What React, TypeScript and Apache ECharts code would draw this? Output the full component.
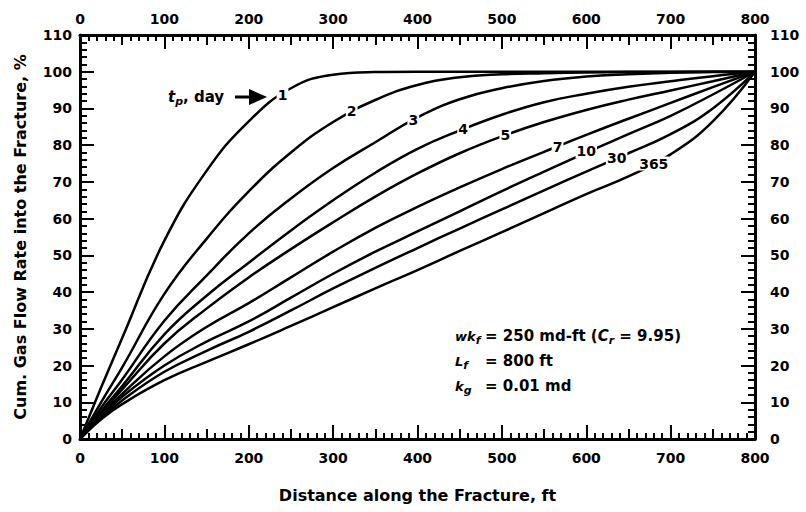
import React, { useEffect, useRef } from "react";
import * as echarts from "echarts";

// Distance along the fracture, ft
const distanceFt = [0, 25, 50, 100, 150, 200, 250, 300, 350, 400, 450, 500, 550, 600, 650, 700, 750, 800];

// Cumulative gas flow rate into the fracture (%) for each producing time tp
const flowTp1 = [0, 14, 27.5, 54, 73, 86.5, 95.5, 99.2, 99.9, 100, 100, 100, 100, 100, 100, 100, 100, 100];
const flowTp2 = [0, 10, 19.5, 39.5, 54.5, 67.4, 78, 86.3, 92.3, 96.4, 98.5, 99.3, 99.6, 99.8, 99.9, 99.95, 100, 100];
const flowTp3 = [0, 8.5, 16.2, 32.2, 44.5, 56, 65.5, 73.8, 80.8, 87.6, 92.5, 95.5, 97.5, 98.7, 99.3, 99.7, 99.9, 100];
const flowTp4 = [0, 7.5, 14.4, 28.5, 39, 48, 56.8, 65, 72.5, 79, 84, 88.3, 91.7, 94, 95.9, 97.4, 98.8, 100];
const flowTp5 = [0, 7, 13.5, 26, 35.5, 44, 51.7, 59, 66, 72.3, 77.8, 82.4, 86.3, 89.6, 92.4, 94.9, 97.4, 100];
const flowTp7 = [0, 6.5, 12.3, 22.5, 30.5, 37, 44, 51, 57.5, 63.2, 68.5, 73.5, 78.2, 82.8, 87.2, 91.5, 95.8, 100];
const flowTp10 = [0, 6, 11.5, 20, 26.5, 32, 38.5, 45, 51, 56.5, 62, 67.5, 72.8, 78, 83, 88, 93.8, 100];
const flowTp30 = [0, 5.7, 10.5, 18.3, 24, 29.2, 35, 41, 46.6, 52, 57.3, 62.5, 67.7, 72.8, 77.8, 83, 90, 100];
const flowTp365 = [0, 5.4, 9.5, 16, 21, 25.8, 30.8, 35.9, 41, 46, 51.2, 56.3, 61.5, 66.7, 71.5, 77.5, 86.5, 100];

const curveNames = ["1", "2", "3", "4", "5", "7", "10", "30", "365"];
const curveValues = [flowTp1, flowTp2, flowTp3, flowTp4, flowTp5, flowTp7, flowTp10, flowTp30, flowTp365];

// Where each tp label sits on its curve: [distance ft, flow %]
const labelDistance = [240, 322, 395, 454, 504, 566, 600, 636, 680];
const labelFlow = [93.6, 89.3, 86.9, 84.3, 82.7, 79.6, 78.3, 76.4, 75];

const xTicks = { min: 0, max: 800, major: 100, mid: 50, minorSplit: 10 };
const yTicks = { min: 0, max: 110, major: 10, minorSplit: 5 };

const FONT = "'DejaVu Sans', Verdana, sans-serif";
const INK = "#000";

const tickText = { fontFamily: FONT, fontWeight: "bold" as const, color: INK, fontSize: 14 };
const titleText = { fontFamily: FONT, fontWeight: "bold" as const, color: INK, fontSize: 16 };
const noteText = { fontFamily: FONT, fontWeight: "bold" as const, color: INK, fontSize: 15 };

function mainAxis(position: string, margin: number, extra: any = {}) {
  return {
    type: "value",
    position,
    axisLine: { show: true, onZero: false, lineStyle: { color: INK, width: 3 } },
    axisTick: { show: true, inside: true, length: 14, lineStyle: { color: INK, width: 2 } },
    axisLabel: { ...tickText, margin },
    splitLine: { show: false },
    minorSplitLine: { show: false },
    ...extra,
  };
}

function midTickAxis(position: string) {
  return {
    type: "value",
    position,
    min: xTicks.min,
    max: xTicks.max,
    interval: xTicks.mid,
    axisLine: { show: false, onZero: false },
    axisTick: { show: true, inside: true, length: 10, lineStyle: { color: INK, width: 2 } },
    axisLabel: { show: false },
    splitLine: { show: false },
  };
}

export default function App() {
  const ref = useRef<HTMLDivElement>(null);

  useEffect(() => {
    if (!ref.current) return;
    const chart = echarts.init(ref.current, null, { renderer: "svg" });

    const xCommon = {
      min: xTicks.min,
      max: xTicks.max,
      interval: xTicks.major,
      minorTick: { show: true, splitNumber: xTicks.minorSplit, length: 6, lineStyle: { color: INK, width: 2 } },
    };
    const yCommon = {
      min: yTicks.min,
      max: yTicks.max,
      interval: yTicks.major,
      minorTick: { show: true, splitNumber: yTicks.minorSplit, length: 7, lineStyle: { color: INK, width: 2 } },
    };

    const lineSeries = curveValues.map((vals, i) => ({
      type: "line",
      name: curveNames[i],
      data: distanceFt.map((d, j) => [d, vals[j]]),
      showSymbol: false,
      smooth: 0.45,
      lineStyle: { color: INK, width: 2.5 },
      z: 2,
    }));

    const rich = {
      it: { ...noteText, fontStyle: "italic" },
      itl: { ...noteText, fontSize: 13, fontStyle: "italic" },
      sub: { ...noteText, fontStyle: "italic", fontSize: 11, padding: [9, 0, 0, 0] },
      n: { ...noteText },
    };

    const note = (id: string, x: number, y: number, text: string) => ({
      id,
      type: "text",
      x,
      y,
      z: 10,
      style: { text, rich, verticalAlign: "middle", ...noteText },
    });

    const baseGraphic: any[] = [
      note("tp", 168, 97, "{it|t}{sub|p}{n|, day}"),
      {
        id: "arrowShaft",
        type: "line",
        shape: { x1: 235, y1: 97, x2: 252, y2: 97 },
        style: { stroke: INK, lineWidth: 3 },
        z: 10,
      },
      {
        id: "arrowHead",
        type: "polygon",
        shape: { points: [[249, 89], [249, 105], [267, 97]] },
        style: { fill: INK },
        z: 10,
      },
      note("wkLbl", 455, 336, "{itl|wk}{sub|f}"),
      note("lfLbl", 455, 361, "{itl|L}{sub|f}"),
      note("kgLbl", 455, 386, "{itl|k}{sub|g}"),
      note("wkVal", 485, 336, "{n|= 250 md-ft (}{it|C}{sub|r}{n| = 9.95)}"),
      note("lfVal", 485, 361, "{n|= 800 ft}"),
      note("kgVal", 485, 386, "{n|= 0.01 md}"),
    ];

    const option: any = {
      animation: false,
      backgroundColor: "#fff",
      grid: { left: 80, right: 51, top: 35, bottom: 73 },
      xAxis: [
        mainAxis("bottom", 12, {
          ...xCommon,
          name: "Distance along the Fracture, ft",
          nameLocation: "middle",
          nameGap: 48,
          nameTextStyle: { ...titleText },
        }),
        mainAxis("top", 9, { ...xCommon }),
        midTickAxis("bottom"),
        midTickAxis("top"),
      ],
      yAxis: [
        mainAxis("left", 8, {
          ...yCommon,
          name: "Cum. Gas Flow Rate into the Fracture, %",
          nameLocation: "middle",
          nameGap: 52,
          nameTextStyle: { ...titleText },
        }),
        mainAxis("right", 15, { ...yCommon }),
      ],
      series: lineSeries,
      graphic: baseGraphic,
    };

    chart.setOption(option);

    // tp labels placed on their curves through the chart's own scales
    const curveLabels = curveNames.map((name, i) => {
      const [px, py] = chart.convertToPixel({ xAxisIndex: 0, yAxisIndex: 0 }, [labelDistance[i], labelFlow[i]]);
      return {
        id: "tpLabel" + name,
        type: "text",
        x: px,
        y: py,
        z: 8,
        style: {
          text: name,
          fill: INK,
          fontFamily: FONT,
          fontWeight: "bold",
          fontSize: 14,
          align: "center",
          verticalAlign: "middle",
          backgroundColor: "#fff",
          padding: [0, 1],
        },
      };
    });
    chart.setOption({ graphic: [...baseGraphic, ...curveLabels] });

    return () => chart.dispose();
  }, []);

  return <div ref={ref} style={{ width: 806, height: 512, position: "absolute", left: 0, top: 0 }} />;
}
